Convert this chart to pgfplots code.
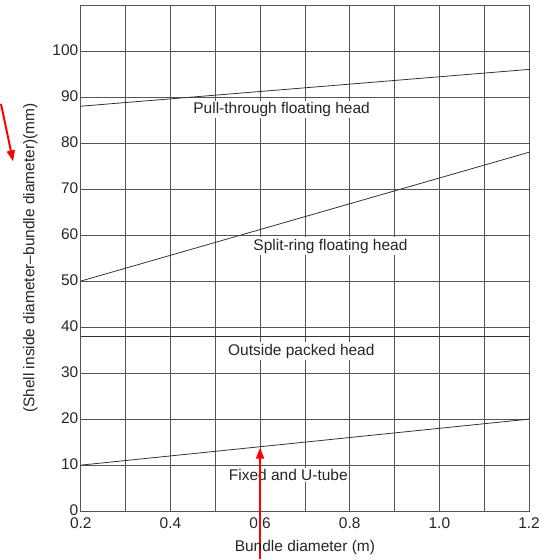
\documentclass[border=0pt]{standalone}
\usepackage{fontspec}
\setmainfont{Liberation Sans}
\usepackage{pgfplots}
\pgfplotsset{compat=1.18}
\usetikzlibrary{arrows.meta}
\definecolor{gridc}{HTML}{555555}
\begin{document}
\begin{tikzpicture}
\begin{axis}[
  name=ax,
  scale only axis,
  width=449pt, height=507pt,
  xmin=0.2, xmax=1.2, ymin=0, ymax=110,
  xtick={0.2,0.4,...,1.2},
  minor xtick={0.3,0.5,0.7,0.9,1.1},
  ytick={0,10,...,100},
  xticklabels={0.2,0.4,0.6,0.8,1.0,1.2},
  grid=both,
  major grid style={gridc, line width=0.8pt},
  minor grid style={gridc, line width=0.8pt},
  axis line style={gridc, line width=0.9pt},
  tick style={draw=none},
  /pgf/number format/assume math mode=true,
  ticklabel style={font=\fontsize{15.5}{17}\selectfont, text=black!85},
  xticklabel style={yshift=-3pt},
  yticklabel style={xshift=1pt, yshift=1pt},
  xlabel={Bundle diameter (m)},
  ylabel={(Shell inside diameter\textendash bundle diameter)(mm)},
  label style={font=\fontsize{15.5}{17}\selectfont, text=black!85},
  xlabel style={yshift=-5pt},
  ylabel style={yshift=8pt},
  clip=false,
]
\addplot[black!80, line width=0.8pt] coordinates {(0.2,88) (1.2,96)};
\addplot[black!80, line width=0.8pt] coordinates {(0.2,50) (1.2,78)};
\addplot[black!80, line width=0.8pt] coordinates {(0.2,38) (1.2,38)};
\addplot[black!80, line width=0.8pt] coordinates {(0.2,10) (1.2,20)};
\node[fill=white, inner sep=1.5pt, font=\fontsize{15.5}{17}\selectfont, text=black!85] at (axis cs:0.648,87.3) {Pull-through floating head};
\node[fill=white, inner sep=1.5pt, font=\fontsize{15.5}{17}\selectfont, text=black!85] at (axis cs:0.757,57.6) {Split-ring floating head};
\node[fill=white, inner sep=1.5pt, font=\fontsize{15.5}{17}\selectfont, text=black!85] at (axis cs:0.692,34.8) {Outside packed head};
\node[fill=white, inner sep=1.5pt, font=\fontsize{15.5}{17}\selectfont, text=black!85] at (axis cs:0.663,7.8) {Fixed and U-tube};
\draw[red, line width=2pt, -{Triangle[length=11pt,width=8pt]}] (axis cs:0.6,-10.4) -- (axis cs:0.6,13.8);
\draw[red, line width=2pt, -{Triangle[length=11pt,width=8pt]}] (axis cs:0.022,88.5) -- (axis cs:0.049,76);
\end{axis}
\useasboundingbox ([shift={(-79pt,-48pt)}]ax.south west) rectangle ([shift={(22pt,5pt)}]ax.north east);
\end{tikzpicture}
\end{document}
